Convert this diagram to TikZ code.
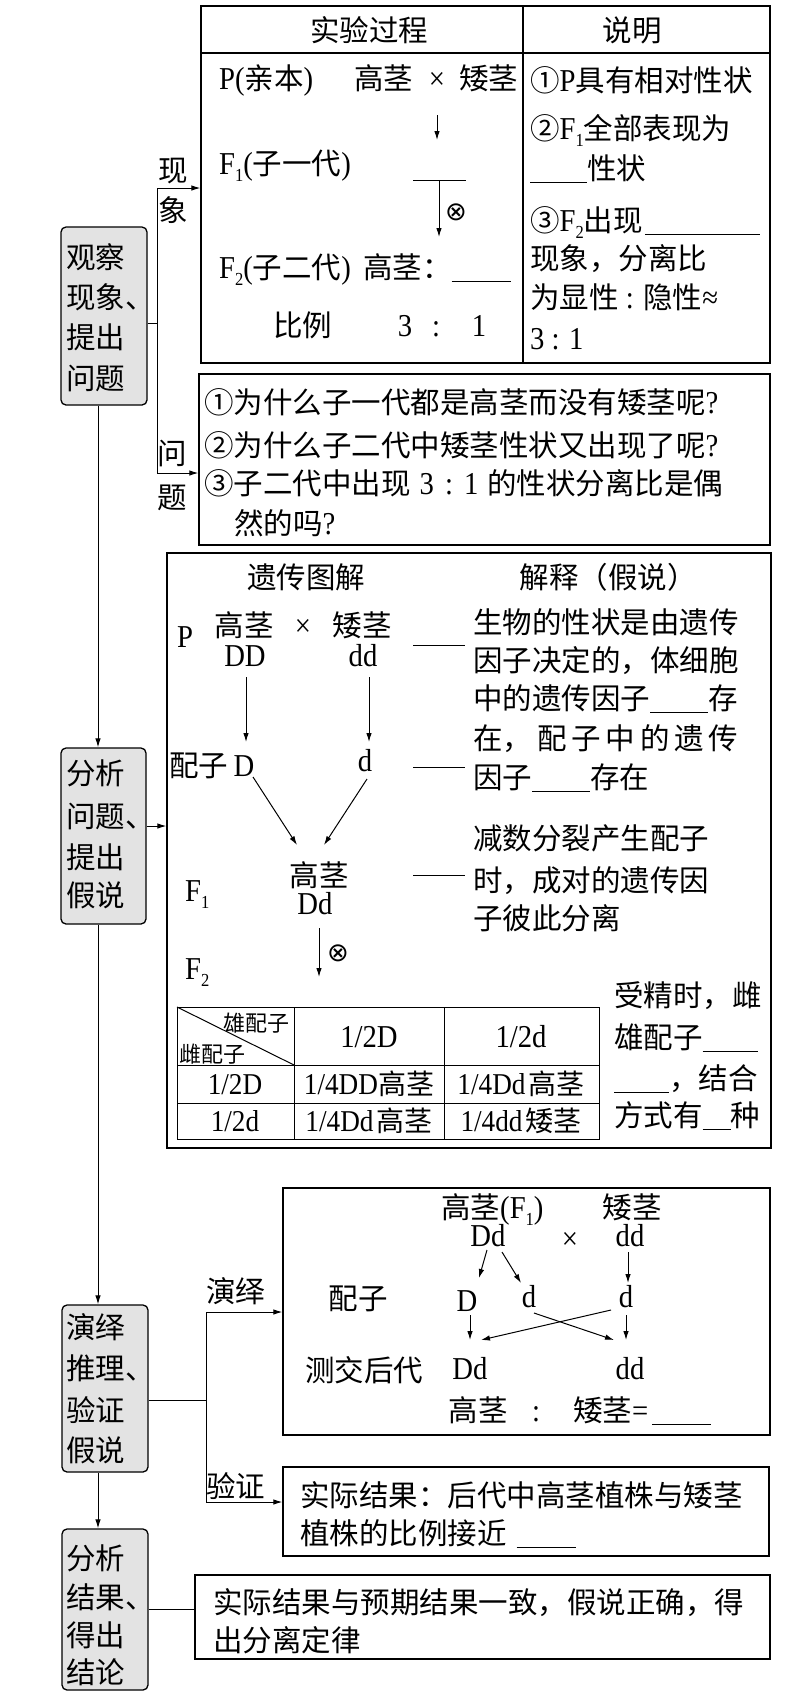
\documentclass[tikz,border=0pt]{standalone}
\usepackage[no-math]{fontspec}
\setmainfont{Noto Sans CJK SC}
\newfontfamily\latf[Scale=1.08,FakeStretch=0.9]{Liberation Serif}
\newfontfamily\djv{DejaVu Sans}
\usetikzlibrary{arrows.meta,fit}
\newcommand\lt[1]{{\latf #1}}
\newcommand\sub[1]{\raisebox{-0.25em}{\fontsize{17}{17}\selectfont\latf #1}}
\newcommand\blank[1]{\rule[-4pt]{#1}{1.2pt}}
\newcommand\ox{{\fontsize{26}{26}\selectfont\djv ⊗}}
\begin{document}
\begin{tikzpicture}[x=1pt,y=-1pt,
  font=\fontsize{29.5}{39}\selectfont,
  box/.style={draw, line width=1.3pt, inner sep=0pt},
  gbox/.style={draw, line width=1.3pt, inner sep=0pt, rounded corners=5pt, fill=gray!22},
  txt/.style={inner sep=0pt, anchor=base west},
  txc/.style={inner sep=0pt, anchor=base},
  cell/.style={inner sep=0pt, anchor=base, font=\fontsize{28}{30}\selectfont},
  small/.style={font=\fontsize{22}{22}\selectfont},
  arr/.style={-{Latex[length=9pt,width=5.5pt]}, line width=1pt},
  ln/.style={line width=1pt},
]
\useasboundingbox (0,0) rectangle (799,1701);
\fill[white] (0,0) rectangle (799,1701);

% ---------- frames ----------
\path (201,6) coordinate (t1a) (770,363) coordinate (t1b);
\node[box, fit=(t1a)(t1b)] (T1) {};
\path (199,374) coordinate (t2a) (770,545) coordinate (t2b);
\node[box, fit=(t2a)(t2b)] (T2) {};
\path (167,553) coordinate (t3a) (771,1148) coordinate (t3b);
\node[box, fit=(t3a)(t3b)] (T3) {};
\path (283,1188) coordinate (t4a) (770,1435) coordinate (t4b);
\node[box, fit=(t4a)(t4b)] (T4) {};
\path (283,1467) coordinate (t5a) (769,1556) coordinate (t5b);
\node[box, fit=(t5a)(t5b)] (T5) {};
\path (195,1575) coordinate (t6a) (770,1659) coordinate (t6b);
\node[box, fit=(t6a)(t6b)] (T6) {};

\path (61,227) coordinate (b1a) (147,405) coordinate (b1b);
\node[gbox, fit=(b1a)(b1b)] (B1) {};
\path (61,748) coordinate (b2a) (146,924) coordinate (b2b);
\node[gbox, fit=(b2a)(b2b)] (B2) {};
\path (62,1305) coordinate (b3a) (148,1472) coordinate (b3b);
\node[gbox, fit=(b3a)(b3b)] (B3) {};
\path (62,1529) coordinate (b4a) (148,1690) coordinate (b4b);
\node[gbox, fit=(b4a)(b4b)] (B4) {};

% ---------- gray box texts ----------
\node[txt] (b1l1) at (66,268) {观察};
\node[txt] (b1l2) at (66,308) {现象、};
\node[txt] (b1l3) at (66,348) {提出};
\node[txt] (b1l4) at (66,389) {问题};
\node[txt] (b2l1) at (66,784) {分析};
\node[txt] (b2l2) at (66,827) {问题、};
\node[txt] (b2l3) at (66,868) {提出};
\node[txt] (b2l4) at (66,906) {假说};
\node[txt] (b3l1) at (66,1338) {演绎};
\node[txt] (b3l2) at (66,1379) {推理、};
\node[txt] (b3l3) at (66,1421) {验证};
\node[txt] (b3l4) at (66,1461) {假说};
\node[txt] (b4l1) at (66,1569) {分析};
\node[txt] (b4l2) at (66,1608) {结果、};
\node[txt] (b4l3) at (66,1646) {得出};
\node[txt] (b4l4) at (66,1683) {结论};

% ---------- main connectors ----------
\coordinate (mx) at (98,0);
\draw[arr] (B1.south -| mx) -- (B2.north -| mx);
\draw[arr] (B2.south -| mx) -- (B3.north -| mx);
\draw[arr] (B3.south -| mx) -- (B4.north -| mx);

\coordinate (j1) at (157,323);
\coordinate (j1t) at (157,188);
\coordinate (j1b) at (157,473);
\draw[ln] (B1.east |- j1) -- (j1);
\draw[arr] (j1b) -- (j1t) -- (T1.west |- j1t);
\draw[arr] (j1t) -- (j1b) -- (T2.west |- j1b);
\node[txc] (lx1) at (173,181) {现};
\node[txc] (lx2) at (173,221) {象};
\node[txc] (lw1) at (172,464) {问};
\node[txc] (lw2) at (172,508) {题};

\coordinate (j2) at (0,826);
\draw[arr] (B2.east |- j2) -- (T3.west |- j2);

\coordinate (j3) at (206,1400);
\coordinate (j3t) at (206,1312);
\coordinate (j3b) at (206,1502);
\draw[ln] (B3.east |- j3) -- (j3);
\draw[arr] (j3b) -- (j3t) -- (T4.west |- j3t);
\draw[arr] (j3t) -- (j3b) -- (T5.west |- j3b);
\node[txt] (ly1) at (206,1302) {演绎};
\node[txt] (ly2) at (206,1497) {验证};

\coordinate (j4) at (0,1609);
\draw[ln] (B4.east |- j4) -- (T6.west |- j4);

% ---------- T1 ----------
\draw[line width=1.3pt] (T1.north west |- 0,53) -- (T1.north east |- 0,53);
\draw[line width=1.3pt] (523,6) -- (523,363);
\node[txc] (h1) at (369,41) {实验过程};
\node[txc] (h2) at (632,41) {说明};
\node[txt] (p1) at (219,89) {\lt{P(}亲本\lt{)}};
\node[txt] (p2) at (354,89) {高茎};
\node[txc] (p3) at (437,89) {\lt{×}};
\node[txt] (p4) at (459,89) {矮茎};
\draw[arr] (437,115) coordinate (a1s) -- (437,140) coordinate (a1e);
\node[txt] (f1) at (219,174) {\lt{F}\sub{1}\lt{(}子一代\lt{)}};
\draw[ln] (413,180) coordinate (bl1a) -- (466,180) coordinate (bl1b);
\draw[arr] (439,180) coordinate (a2s) -- (439,237) coordinate (a2e);
\node[inner sep=0pt] (ox1) at (456,212) {\ox};
\node[txt] (f2) at (219,278) {\lt{F}\sub{2}\lt{(}子二代\lt{)}};
\node[txt] (f2b) at (363,278) {高茎：\blank{59pt}};
\node[txt] (r1) at (273,336) {比例};
\node[txc] (r2) at (405,336) {\lt{3}};
\node[txc] (r3) at (436,336) {\lt{:}};
\node[txc] (r4) at (479,336) {\lt{1}};

\node[txt] (s1) at (530,91) {①\lt{P}具有相对性状};
\node[txt] (s2) at (530,139) {②\lt{F}\sub{1}全部表现为};
\node[txt] (s3) at (530,179) {\blank{57pt}性状};
\node[txt] (s4) at (530,231) {③\lt{F}\sub{2}出现\hspace{2pt}\blank{115pt}};
\node[txt] (s5) at (530,269) {现象，分离比};
\node[txt] (s6) at (530,308) {为显性\lt{ : }隐性\lt{≈}};
\node[txt] (s7) at (530,349) {\lt{3 : 1}};

% ---------- T2 ----------
\node[txt] (q1) at (204,413) {①为什么子一代都是高茎而没有矮茎呢\lt{?}};
\node[txt] (q2) at (204,456) {②为什么子二代中矮茎性状又出现了呢\lt{?}};
\node[txt] (q3) at (204,494) {③子二代中出现\hspace{9pt}\lt{3}\hspace{11pt}\lt{:}\hspace{11pt}\lt{1}\hspace{9pt}的性状分离比是偶};
\node[txt] (q4) at (234,534) {然的吗\lt{?}};

% ---------- T3 ----------
\node[txc] (g0a) at (306,588) {遗传图解};
\node[txc] (g0b) at (608,588) {解释（假说）};
\node[txt] (gP) at (177,647) {\lt{P}};
\node[txc] (gp1) at (244,636) {高茎};
\node[txc] (gp2) at (303,636) {\lt{×}};
\node[txc] (gp3) at (362,636) {矮茎};
\node[txc] (gDD) at (245,666) {\lt{DD}};
\node[txc] (gdd) at (363,666) {\lt{dd}};
\draw[arr] (246,677) coordinate (c1s) -- (246,742) coordinate (c1e);
\draw[arr] (369,677) coordinate (c2s) -- (369,742) coordinate (c2e);
\node[txt] (gpz) at (169,776) {配子};
\node[txc] (gD) at (244,776) {\lt{D}};
\node[txc] (gd) at (365,771) {\lt{d}};
\draw[arr] (253,777) coordinate (c3s) -- (297,845) coordinate (c3e);
\draw[arr] (367,779) coordinate (c4s) -- (324,845) coordinate (c4e);
\node[txc] (gF1a) at (319,886) {高茎};
\node[txc] (gF1b) at (315,914) {\lt{Dd}};
\node[txt] (gF1) at (185,901) {\lt{F}\sub{1}};
\draw[arr] (319,928) coordinate (c5s) -- (319,977) coordinate (c5e);
\node[inner sep=0pt] (ox2) at (338,953) {\ox};
\node[txt] (gF2) at (185,979) {\lt{F}\sub{2}};

\draw[ln] (413,645) coordinate (d1a) -- (465,645) coordinate (d1b);
\draw[ln] (413,767) coordinate (d2a) -- (465,767) coordinate (d2b);
\draw[ln] (413,875) coordinate (d3a) -- (465,875) coordinate (d3b);

\node[txt] (e1) at (473,633) {生物的性状是由遗传};
\node[txt] (e2) at (473,671) {因子决定的，体细胞};
\node[txt] (e3) at (473,709) {中的遗传因子\blank{58pt}存};
\node[txt] (e4) at (473,749) {\hbox to 265pt{在，\hfill 配\hfill 子\hfill 中\hfill 的\hfill 遗\hfill 传}};
\node[txt] (e5) at (473,788) {因子\blank{58pt}存在};
\node[txt] (e6) at (473,849) {减数分裂产生配子};
\node[txt] (e7) at (473,891) {时，成对的遗传因};
\node[txt] (e8) at (473,929) {子彼此分离};

% Punnett table
\draw[ln] (177,1007) rectangle (599,1139);
\draw[ln] (177,1065) -- (599,1065);
\draw[ln] (177,1103) -- (599,1103);
\draw[ln] (294,1007) -- (294,1139);
\draw[ln] (444,1007) -- (444,1139);
\draw[ln] (177,1007) -- (294,1065);
\node[small, inner sep=0pt, anchor=base east] (g1) at (290,1031) {雄配子};
\node[small, inner sep=0pt, anchor=base west] (g2) at (179,1062) {雌配子};
\node[txc] (g3) at (369,1047) {\lt{1/2D}};
\node[txc] (g4) at (521,1047) {\lt{1/2d}};
\node[cell] (g5) at (235,1094) {\lt{1/2D}};
\node[cell] (g6) at (369,1094) {\lt{1/4DD}高茎};
\node[cell] (g7) at (521,1094) {\lt{1/4Dd}\hspace{3pt}高茎};
\node[cell] (g8) at (235,1131) {\lt{1/2d}};
\node[cell] (g9) at (369,1131) {\lt{1/4Dd}\hspace{3pt}高茎};
\node[cell] (g10) at (521,1131) {\lt{1/4dd}\hspace{3pt}矮茎};

\node[txt] (u1) at (614,1006) {受精时，雌};
\node[txt] (u2) at (614,1048) {雄配子\blank{55pt}};
\node[txt] (u3) at (614,1089) {\blank{55pt}，结合};
\node[txt] (u4) at (614,1126) {方式有\blank{28pt}种};

% ---------- T4 ----------
\node[txt] (k1) at (441,1218) {高茎\lt{(F}\sub{1}\lt{)}};
\node[txc] (k2) at (632,1218) {矮茎};
\node[txc] (k3) at (488,1246) {\lt{Dd}};
\node[txc] (k4) at (570,1249) {\lt{×}};
\node[txc] (k5) at (630,1246) {\lt{dd}};
\draw[arr] (487,1250) coordinate (m1s) -- (479,1278) coordinate (m1e);
\draw[arr] (502,1252) coordinate (m2s) -- (521,1283) coordinate (m2e);
\draw[arr] (628,1252) coordinate (m3s) -- (628,1283) coordinate (m3e);
\node[txc] (k6) at (358,1309) {配子};
\node[txc] (k7) at (467,1311) {\lt{D}};
\node[txc] (k8) at (529,1307) {\lt{d}};
\node[txc] (k9) at (626,1307) {\lt{d}};
\draw[arr] (470,1315) coordinate (m4s) -- (470,1340) coordinate (m4e);
\draw[arr] (626,1315) coordinate (m5s) -- (626,1340) coordinate (m5e);
\draw[arr] (534,1313) coordinate (m6s) -- (614,1340) coordinate (m6e);
\draw[arr] (611,1310) coordinate (m7s) -- (481,1340) coordinate (m7e);
\node[txc] (k10) at (364,1381) {测交后代};
\node[txc] (k11) at (470,1379) {\lt{Dd}};
\node[txc] (k12) at (630,1379) {\lt{dd}};
\node[txc] (k13) at (478,1421) {高茎};
\node[txc] (k14) at (536,1421) {\lt{:}};
\node[txt] (k15) at (573,1421) {矮茎\lt{=}\hspace{4pt}\blank{59pt}};

% ---------- T5, T6 ----------
\node[txt] (v1) at (300,1506) {实际结果：后代中高茎植株与矮茎};
\node[txt] (v2) at (300,1544) {植株的比例接近\hspace{10pt}\blank{59pt}};
\node[txt] (w1) at (213,1613) {实际结果与预期结果一致，假说正确，得};
\node[txt] (w2) at (213,1651) {出分离定律};
\end{tikzpicture}
\end{document}
